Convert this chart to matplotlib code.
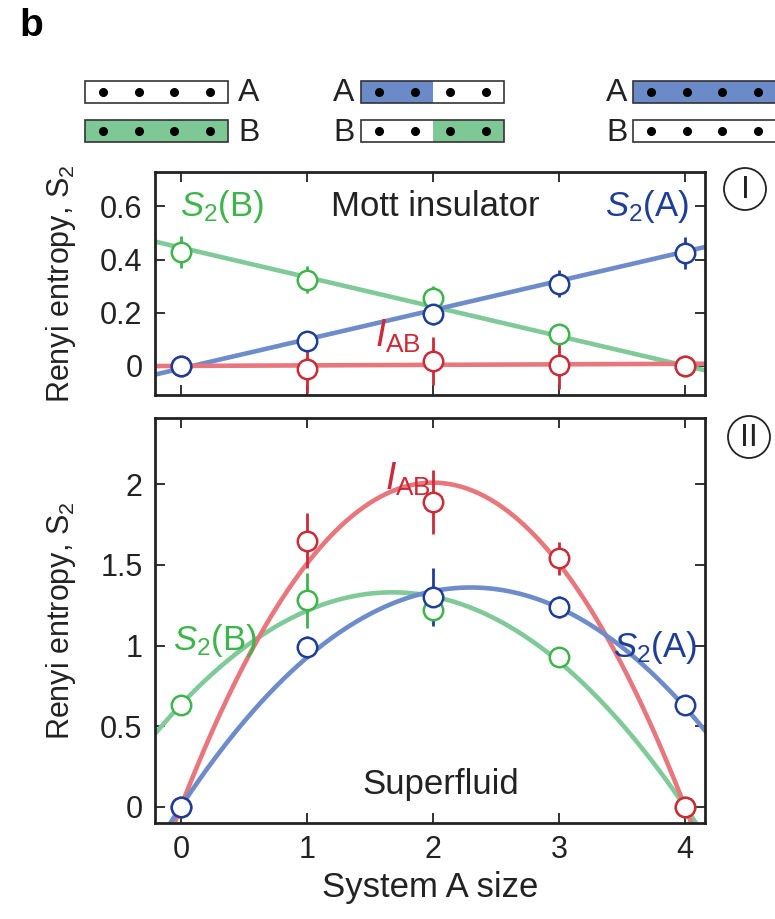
import matplotlib.pyplot as plt
import numpy as np
from matplotlib.patches import Rectangle, Circle

plt.rcParams['font.family'] = ['Liberation Sans', 'DejaVu Sans']
plt.rcParams['mathtext.fontset'] = 'custom'
plt.rcParams['mathtext.rm'] = 'Liberation Sans'
plt.rcParams['mathtext.it'] = 'Liberation Sans:italic'

# data
sizes = [0, 1, 2, 3, 4]

# Mott insulator (panel I)
mott_sA = [0.0, 0.095, 0.195, 0.31, 0.425]
mott_sA_err = [0.0, 0.0, 0.04, 0.05, 0.06]
mott_sB = [0.43, 0.325, 0.255, 0.12, 0.0]
mott_sB_err = [0.06, 0.05, 0.045, 0.0, 0.0]
mott_iab = [0.0, -0.01, 0.02, 0.005, 0.0]
mott_iab_err = [0.0, 0.09, 0.09, 0.09, 0.0]
# fitted lines, polynomial coefficients (highest order first)
mott_sA_fit = [0.11, -0.01]
mott_sB_fit = [-0.111, 0.445]
mott_iab_fit = [0.002, 0.0]

# Superfluid (panel II)
sf_sA = [0.0, 0.99, 1.30, 1.24, 0.63]
sf_sA_err = [0.0, 0.07, 0.18, 0.07, 0.0]
sf_sB = [0.63, 1.28, 1.22, 0.93, 0.0]
sf_sB_err = [0.0, 0.17, 0.07, 0.0, 0.0]
sf_iab = [0.0, 1.65, 1.89, 1.54, 0.0]
sf_iab_err = [0.0, 0.17, 0.2, 0.1, 0.0]
# parabola fits: peak value, peak position, curvature
sf_sA_fit = [1.36, 2.3, 0.257]
sf_sB_fit = [1.33, 1.68, 0.247]
sf_iab_fit = [2.01, 2.0, 0.5025]

c_green_line = '#7fca98'
c_blue_line = '#6e8cc9'
c_red_line = '#e8777d'
c_green = '#3db54b'
c_blue = '#1d3d98'
c_red = '#cc2a37'
c_text = '#222222'

fig = plt.figure(figsize=(7.75, 9.19), dpi=100)

# schematic of the partitions (pixel coords)
sk = fig.add_axes([0, 0, 1, 1], zorder=0)
sk.set_xlim(0, 775)
sk.set_ylim(919, 0)
sk.axis('off')
fill_b = '#7dc895'
fill_a = '#6a8bc8'


def chain(x0, y0, left_fill, right_fill):
    w, h = 143, 22
    sk.add_patch(Rectangle((x0, y0), w / 2, h, facecolor=left_fill, edgecolor='none'))
    sk.add_patch(Rectangle((x0 + w / 2, y0), w / 2, h, facecolor=right_fill, edgecolor='none'))
    sk.add_patch(Rectangle((x0, y0), w, h, facecolor='none', edgecolor='#333333', lw=1.2))
    for f in [0.125, 0.375, 0.625, 0.875]:
        sk.plot(x0 + f * w, y0 + h / 2, 'o', color='black', ms=5.5)


chain(85, 81, 'white', 'white')
chain(85, 120, fill_b, fill_b)
chain(361, 81, fill_a, 'white')
chain(361, 120, 'white', fill_b)
chain(633, 81, fill_a, fill_a)
chain(633, 120, 'white', 'white')
for (x, y, s) in [(249, 93, 'A'), (249, 133, 'B'), (344, 93, 'A'), (344, 133, 'B'),
                  (617, 93, 'A'), (617, 133, 'B')]:
    sk.text(x, y, s, fontsize=23, ha='center', va='center', color=c_text)
sk.text(31, 26, 'b', fontsize=28, fontweight='bold', ha='center', va='center')

# roman numerals in circles
for (x, y, s) in [(745, 189, 'I'), (749, 437, 'II')]:
    sk.add_patch(Circle((x, y), 21, facecolor='none', edgecolor=c_text, lw=1.3))
    sk.text(x, y + 1, s, fontsize=23, ha='center', va='center', color=c_text)

ax1 = fig.add_axes([0.2, 0.570, 0.71, 0.243])
ax2 = fig.add_axes([0.2, 0.1045, 0.71, 0.4405])

xs = np.linspace(-0.3, 4.3, 300)
ekw = dict(fmt='o', ms=14, mfc='white', mew=1.8, elinewidth=2, capsize=0, zorder=3)

# panel I
ax1.plot(xs, np.polyval(mott_sB_fit, xs), color=c_green_line, lw=3.3, zorder=2)
ax1.plot(xs, np.polyval(mott_sA_fit, xs), color=c_blue_line, lw=3.3, zorder=2)
ax1.plot(xs, np.polyval(mott_iab_fit, xs), color=c_red_line, lw=3.3, zorder=2)
ax1.errorbar(sizes, mott_sB, yerr=mott_sB_err, color=c_green, **ekw)
ax1.errorbar(sizes, mott_iab, yerr=mott_iab_err, color=c_red, **ekw)
ax1.errorbar(sizes, mott_sA, yerr=mott_sA_err, color=c_blue, **ekw)
ax1.set_ylim(-0.11, 0.73)
ax1.set_yticks([0, 0.2, 0.4, 0.6])
ax1.set_yticklabels(['0', '0.2', '0.4', '0.6'])
ax1.text(0.33, 0.6, r'$S_2$(B)', color=c_green, fontsize=25, ha='center', va='center')
ax1.text(2.02, 0.6, 'Mott insulator', color=c_text, fontsize=25, ha='center', va='center')
ax1.text(3.7, 0.6, r'$S_2$(A)', color=c_blue, fontsize=25, ha='center', va='center')
ax1.text(1.72, 0.11, r'$I_{\mathrm{AB}}$', color=c_red, fontsize=27, ha='center', va='center')

# panel II
for fit, col in [(sf_sB_fit, c_green_line), (sf_iab_fit, c_red_line), (sf_sA_fit, c_blue_line)]:
    ax2.plot(xs, fit[0] - fit[2] * (xs - fit[1]) ** 2, color=col, lw=3.3, zorder=2)
ax2.errorbar(sizes, sf_sB, yerr=sf_sB_err, color=c_green, **ekw)
ax2.errorbar(sizes, sf_iab, yerr=sf_iab_err, color=c_red, **ekw)
ax2.errorbar(sizes, sf_sA, yerr=sf_sA_err, color=c_blue, **ekw)
ax2.set_ylim(-0.1, 2.41)
ax2.set_yticks([0, 0.5, 1, 1.5, 2])
ax2.set_yticklabels(['0', '0.5', '1', '1.5', '2'])
ax2.text(1.8, 2.03, r'$I_{\mathrm{AB}}$', color=c_red, fontsize=27, ha='center', va='center')
ax2.text(0.27, 1.03, r'$S_2$(B)', color=c_green, fontsize=25, ha='center', va='center')
ax2.text(3.76, 0.99, r'$S_2$(A)', color=c_blue, fontsize=25, ha='center', va='center')
ax2.text(2.06, 0.14, 'Superfluid', color=c_text, fontsize=25, ha='center', va='center')
ax2.set_xlabel('System A size', fontsize=25, color=c_text, labelpad=4)

for ax in (ax1, ax2):
    ax.set_xlim(-0.205, 4.16)
    ax.set_xticks(sizes)
    ax.tick_params(direction='in', top=True, right=True, length=7, width=1.3,
                   labelsize=22, colors=c_text, pad=9)
    for sp in ax.spines.values():
        sp.set_linewidth(2)
        sp.set_color(c_text)
    ax.set_ylabel(r'Renyi entropy, $\mathregular{S_2}$', fontsize=22, color=c_text)
    ax.yaxis.set_label_coords(-0.14, 0.5)
ax1.tick_params(labelbottom=False)

fig.savefig('out.png', dpi=100)
